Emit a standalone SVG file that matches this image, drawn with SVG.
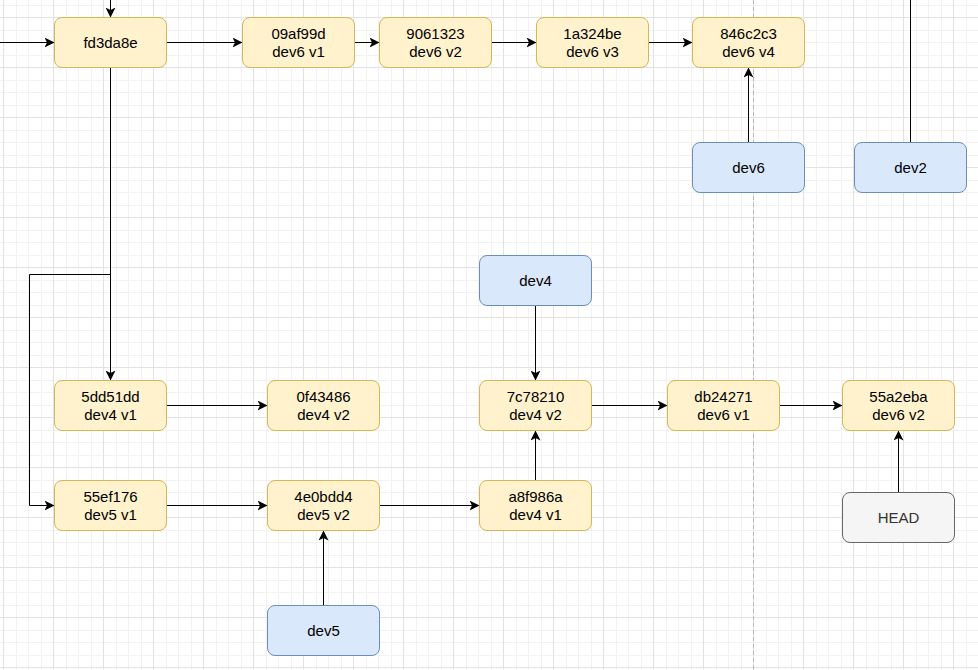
<svg xmlns="http://www.w3.org/2000/svg" width="978" height="670" viewBox="0 0 978 670">
<style>
.y{fill:#fff2cc;stroke:#d6b656;stroke-width:1}
.b{fill:#dae8fc;stroke:#6c8ebf;stroke-width:1}
.g{fill:#f5f5f5;stroke:#666666;stroke-width:1}
text{font-family:"Liberation Sans",Arial,Helvetica,sans-serif;font-size:15px;fill:#000;text-anchor:middle}
.ht{fill:#333333}
.e{fill:none;stroke:#000;stroke-width:1}
.a{marker-end:url(#arr)}
</style>
<defs>
<pattern id="grid" patternUnits="userSpaceOnUse" x="3" y="17" width="50" height="50">
<rect x="0" y="0" width="50" height="50" fill="#ffffff"/>
<g fill="#f2f2f2">
<rect x="13" y="0" width="1" height="50"/><rect x="25" y="0" width="1" height="50"/><rect x="38" y="0" width="1" height="50"/>
<rect x="0" y="13" width="50" height="1"/><rect x="0" y="25" width="50" height="1"/><rect x="0" y="38" width="50" height="1"/>
</g>
<g fill="#e2e2e2">
<rect x="0" y="0" width="1" height="50"/><rect x="0" y="0" width="50" height="1"/>
</g>
</pattern>
<marker id="arr" markerUnits="userSpaceOnUse" viewBox="0 0 10 10" markerWidth="10" markerHeight="10" refX="10" refY="5" orient="auto">
<path d="M0,0 L10,5 L0,10 L2.5,5 Z" fill="#000"/>
</marker>
</defs>
<rect x="0" y="0" width="978" height="670" fill="url(#grid)"/>
<line x1="753.5" y1="0" x2="753.5" y2="670" stroke="#b8b8b8" stroke-width="1" stroke-dasharray="4 3"/>
<g id="connectors">
<path class="e a" d="M0,42.5 L54.5,42.5"/>
<path class="e a" d="M110.5,0 L110.5,17.5"/>
<path class="e a" d="M166.5,42.5 L242.5,42.5"/>
<path class="e a" d="M354.5,42.5 L379.5,42.5"/>
<path class="e a" d="M491.5,42.5 L536.5,42.5"/>
<path class="e a" d="M648.5,42.5 L692.5,42.5"/>
<path class="e a" d="M748.5,142.5 L748.5,67.5"/>
<path class="e" d="M910.5,0 L910.5,142.5"/>
<path class="e a" d="M110.5,67.5 L110.5,380.5"/>
<path class="e a" d="M110.5,274.5 L29.5,274.5 L29.5,505.5 L54.5,505.5"/>
<path class="e a" d="M166.5,405.5 L267.5,405.5"/>
<path class="e a" d="M166.5,505.5 L267.5,505.5"/>
<path class="e a" d="M379.5,505.5 L479.5,505.5"/>
<path class="e a" d="M535.5,480.5 L535.5,430.5"/>
<path class="e a" d="M535.5,305.5 L535.5,380.5"/>
<path class="e a" d="M323.5,605.5 L323.5,530.5"/>
<path class="e a" d="M591.5,405.5 L667.5,405.5"/>
<path class="e a" d="M779.5,405.5 L842.5,405.5"/>
<path class="e a" d="M898.5,492.5 L898.5,430.5"/>
</g>
<g id="fd3da8e"><rect class="y" x="54.5" y="17.5" width="112" height="50" rx="7.5"/><text x="110.5" y="47.7">fd3da8e</text></g>
<g id="n09af99d"><rect class="y" x="242.5" y="17.5" width="112" height="50" rx="7.5"/><text x="298.5" y="38.7">09af99d</text><text x="298.5" y="56.7">dev6 v1</text></g>
<g id="n9061323"><rect class="y" x="379.5" y="17.5" width="112" height="50" rx="7.5"/><text x="435.5" y="38.7">9061323</text><text x="435.5" y="56.7">dev6 v2</text></g>
<g id="n1a324be"><rect class="y" x="536.5" y="17.5" width="112" height="50" rx="7.5"/><text x="592.5" y="38.7">1a324be</text><text x="592.5" y="56.7">dev6 v3</text></g>
<g id="n846c2c3"><rect class="y" x="692.5" y="17.5" width="112" height="50" rx="7.5"/><text x="748.5" y="38.7">846c2c3</text><text x="748.5" y="56.7">dev6 v4</text></g>
<g id="dev6"><rect class="b" x="692.5" y="142.5" width="112" height="50" rx="7.5"/><text x="748.5" y="172.7">dev6</text></g>
<g id="dev2"><rect class="b" x="854.5" y="142.5" width="112" height="50" rx="7.5"/><text x="910.5" y="172.7">dev2</text></g>
<g id="dev4"><rect class="b" x="479.5" y="255.5" width="112" height="50" rx="7.5"/><text x="535.5" y="285.7">dev4</text></g>
<g id="n5dd51dd"><rect class="y" x="54.5" y="380.5" width="112" height="50" rx="7.5"/><text x="110.5" y="401.7">5dd51dd</text><text x="110.5" y="419.7">dev4 v1</text></g>
<g id="n0f43486"><rect class="y" x="267.5" y="380.5" width="112" height="50" rx="7.5"/><text x="323.5" y="401.7">0f43486</text><text x="323.5" y="419.7">dev4 v2</text></g>
<g id="n7c78210"><rect class="y" x="479.5" y="380.5" width="112" height="50" rx="7.5"/><text x="535.5" y="401.7">7c78210</text><text x="535.5" y="419.7">dev4 v2</text></g>
<g id="db24271"><rect class="y" x="667.5" y="380.5" width="112" height="50" rx="7.5"/><text x="723.5" y="401.7">db24271</text><text x="723.5" y="419.7">dev6 v1</text></g>
<g id="n55a2eba"><rect class="y" x="842.5" y="380.5" width="112" height="50" rx="7.5"/><text x="898.5" y="401.7">55a2eba</text><text x="898.5" y="419.7">dev6 v2</text></g>
<g id="n55ef176"><rect class="y" x="54.5" y="480.5" width="112" height="50" rx="7.5"/><text x="110.5" y="501.7">55ef176</text><text x="110.5" y="519.7">dev5 v1</text></g>
<g id="n4e0bdd4"><rect class="y" x="267.5" y="480.5" width="112" height="50" rx="7.5"/><text x="323.5" y="501.7">4e0bdd4</text><text x="323.5" y="519.7">dev5 v2</text></g>
<g id="a8f986a"><rect class="y" x="479.5" y="480.5" width="112" height="50" rx="7.5"/><text x="535.5" y="501.7">a8f986a</text><text x="535.5" y="519.7">dev4 v1</text></g>
<g id="HEAD"><rect class="g" x="842.5" y="492.5" width="112" height="50" rx="7.5"/><text class="ht" x="898.5" y="522.7">HEAD</text></g>
<g id="dev5"><rect class="b" x="267.5" y="605.5" width="112" height="50" rx="7.5"/><text x="323.5" y="635.7">dev5</text></g>
</svg>
